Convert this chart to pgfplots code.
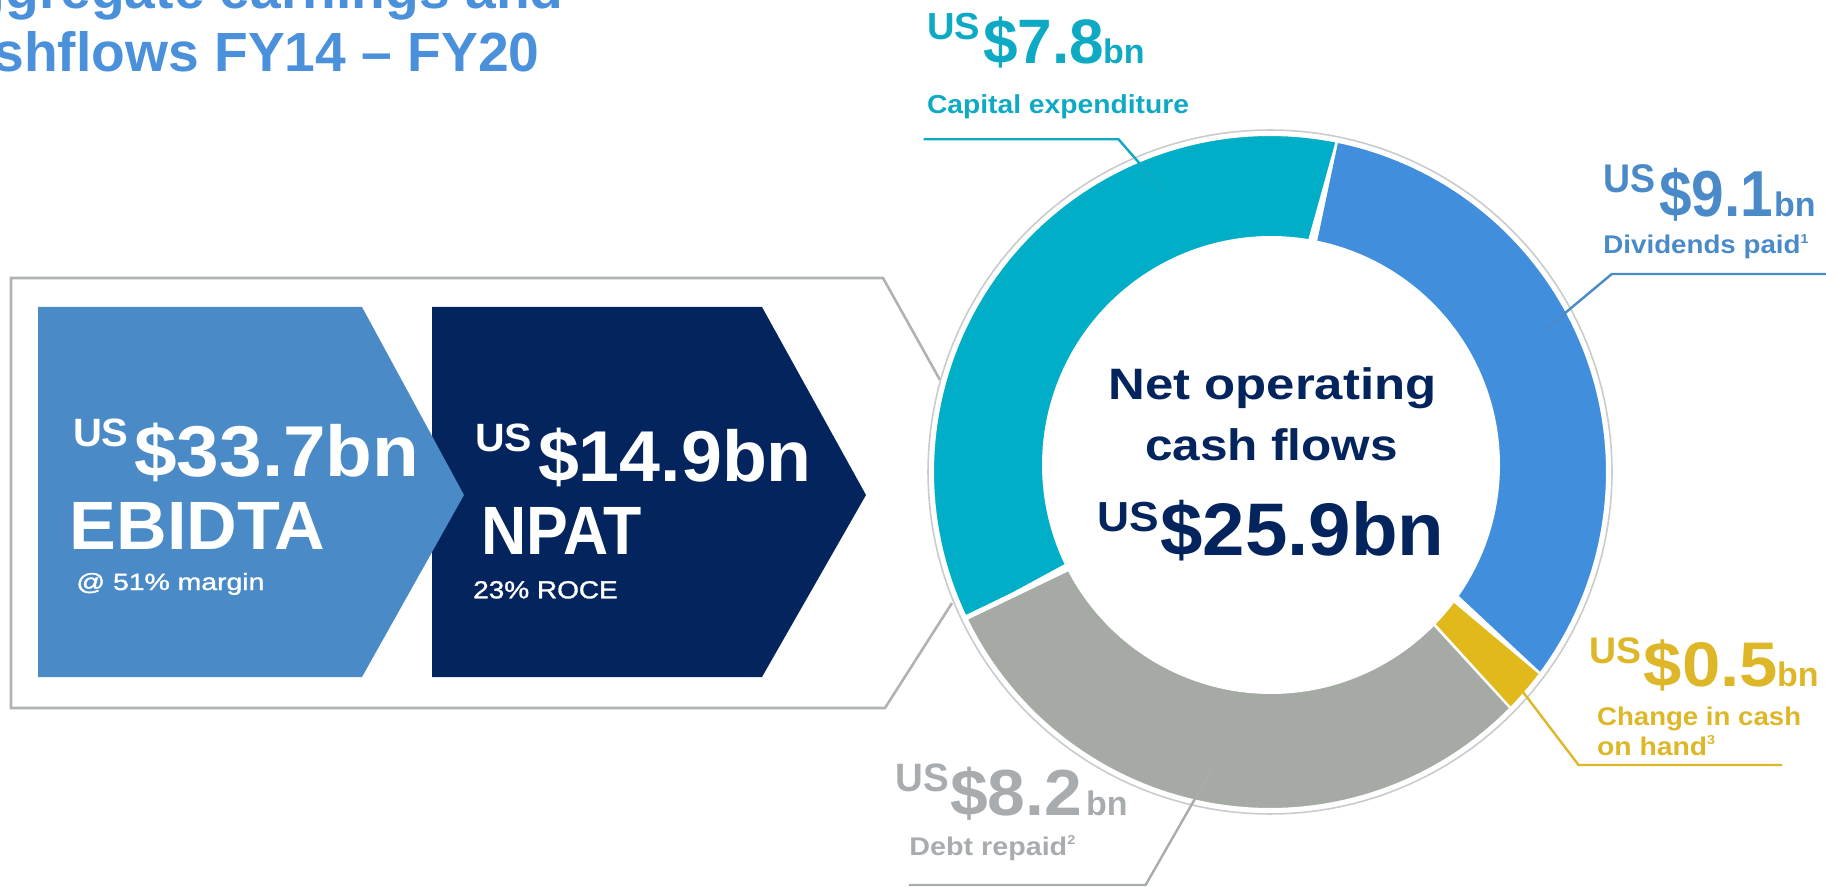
\documentclass[border=0pt]{standalone}
\usepackage{fontspec}
\setmainfont{Liberation Sans}
\newfontfamily\medfont{Liberation Sans}[FakeBold=1.2]
\usepackage{graphicx}
\usepackage{pgfplots}
\usepackage{pgfplotstable}
\pgfplotsset{compat=1.18}

\definecolor{titleblue}{HTML}{4A90DB}
\definecolor{ebit}{HTML}{4A8AC6}
\definecolor{navy}{HTML}{03245C}
\definecolor{capcol}{HTML}{00AEC7}
\definecolor{captxt}{HTML}{0EAAC4}
\definecolor{divcol}{HTML}{418EDC}
\definecolor{divtxt}{HTML}{4A8AC8}
\definecolor{cashcol}{HTML}{E2B91A}
\definecolor{cashtxt}{HTML}{DEB728}
\definecolor{debtcol}{HTML}{A5ABA4}
\definecolor{debttxt}{HTML}{A9ACAE}
\definecolor{frame}{HTML}{B0B3B5}
\definecolor{ringline}{HTML}{C9CBCC}

% arc shares of the ring (US$ bn), read from the drawn segments, clockwise from the capex segment
\pgfplotstableread{
seg   share
capex 9.05
div   8.2
cash  0.55
debt  7.8
}\arcs

\newcommand\BB[3]{\resizebox{#2pt}{\height}{\fontsize{#1pt}{#1pt}\selectfont\bfseries #3}}
\newcommand\RR[3]{\resizebox{#2pt}{\height}{\fontsize{#1pt}{#1pt}\selectfont\medfont #3}}
\newcommand\BN[1]{{\fontsize{#1pt}{#1pt}\selectfont\bfseries bn}}
\newcommand\supr[1]{\raisebox{0.4em}{\fontsize{6.5pt}{6.5pt}\selectfont #1}}

% ring segment: colour, start angle, end angle (clockwise)
\newcommand\seg[3]{%
\addplot[fill=#1, draw=white, line width=2.5pt, mark=none, domain=0:2, samples=151, variable=\t]
 ({(\t<=1) ? (1270+338.5*cos(#2+((#3)-(#2))*\t)) : (1271+226.5*cos(#3+((#2)-(#3))*(\t-1)))},
  {(\t<=1) ? (472-338.5*sin(#2+((#3)-(#2))*\t)) : (465-226.5*sin(#3+((#2)-(#3))*(\t-1)))});
}

\begin{document}
\begin{tikzpicture}
\pgfplotstablegetelem{0}{share}\of\arcs\pgfmathsetmacro\sA{\pgfplotsretval}
\pgfplotstablegetelem{1}{share}\of\arcs\pgfmathsetmacro\sB{\pgfplotsretval}
\pgfplotstablegetelem{2}{share}\of\arcs\pgfmathsetmacro\sC{\pgfplotsretval}
\pgfplotstablegetelem{3}{share}\of\arcs\pgfmathsetmacro\sD{\pgfplotsretval}
\pgfmathsetmacro\tot{\sA+\sB+\sC+\sD}
\pgfmathsetmacro\aA{205.6}
\pgfmathsetmacro\aB{\aA-360*\sA/\tot}
\pgfmathsetmacro\aC{\aB-360*\sB/\tot}
\pgfmathsetmacro\aD{\aC-360*\sC/\tot}
\pgfmathsetmacro\aE{\aD-360*\sD/\tot}
\begin{axis}[width=913pt, height=443.5pt, scale only axis,
  xmin=0, xmax=1826, ymin=0, ymax=887, y dir=reverse,
  hide axis, clip=true]

% frame
\addplot[frame, line width=1.3pt, mark=none] coordinates {(940,380) (883,278) (11,278) (11,708) (885,708) (952,603)};

% chevrons
\addplot[fill=navy, draw=none, mark=none] coordinates {(432,307) (762,307) (866,495) (762,677) (432,677)};
\addplot[fill=ebit, draw=none, mark=none] coordinates {(38,307) (362,307) (464,495) (362,677) (38,677)};

% ring
\seg{capcol}{\aA}{\aB}
\seg{divcol}{\aB}{\aC}
\seg{cashcol}{\aC}{\aD}
\seg{debtcol}{\aD}{\aE}
\addplot[ringline, line width=0.8pt, mark=none, domain=0:360, samples=181] ({1270+342*cos(x)},{472-342*sin(x)});

% leaders
\addplot[captxt, line width=1.2pt, mark=none] coordinates {(923.6,139.3) (1118.5,139.3) (1162.8,190)};
\addplot[divtxt, line width=1.2pt, mark=none] coordinates {(1826,274) (1611.8,274) (1546.8,328.3)};
\addplot[cashtxt, line width=1.2pt, mark=none] coordinates {(1523,692) (1578.5,765) (1782,765)};
\addplot[debttxt, line width=1.2pt, mark=none] coordinates {(909,885) (1145.6,885) (1212,769)};

% title
\node[anchor=base east, inner sep=0pt, text=titleblue] at (564,9) {\fontsize{27.6pt}{27.6pt}\selectfont\bfseries Aggregate earnings and};
\node[anchor=base east, inner sep=0pt, text=titleblue] at (540,72) {\fontsize{27.6pt}{27.6pt}\selectfont\bfseries cashflows FY14 – FY20};

% EBIDTA
\node[anchor=base west, inner sep=0pt, text=white] at (72.7,446.7) {\BB{19.75}{27.8}{US}};
\node[anchor=base west, inner sep=0pt, text=white] at (134,476.7) {\BB{36}{142.5}{\$33.7bn}};
\node[anchor=base west, inner sep=0pt, text=white] at (69.3,549) {\BB{34.2}{127.9}{EBIDTA}};
\node[anchor=base west, inner sep=0pt, text=white] at (76,590) {\RR{11.75}{94}{@ 51\% margin}};

% NPAT
\node[anchor=base west, inner sep=0pt, text=white] at (474.6,452) {\BB{19.75}{28.5}{US}};
\node[anchor=base west, inner sep=0pt, text=white] at (537.7,481) {\BB{36}{136.9}{\$14.9bn}};
\node[anchor=base west, inner sep=0pt, text=white] at (480.7,554) {\BB{34.2}{80.5}{NPAT}};
\node[anchor=base west, inner sep=0pt, text=white] at (472.8,598.3) {\RR{12.3}{72.3}{23\% ROCE}};

% centre
\node[anchor=base, inner sep=0pt, text=navy] at (1272.5,400) {\BB{22}{164}{Net operating}};
\node[anchor=base, inner sep=0pt, text=navy] at (1271.5,460) {\BB{22}{126.5}{cash flows}};
\node[anchor=base west, inner sep=0pt, text=navy] at (1096.7,531.7) {\BB{21}{30.8}{US}};
\node[anchor=base west, inner sep=0pt, text=navy] at (1160,555) {\BB{37.25}{142}{\$25.9bn}};

% capex
\node[anchor=base west, inner sep=0pt, text=captxt] at (926.6,40) {\BB{18.85}{26.5}{US}};
\node[anchor=base west, inner sep=0pt, text=captxt] at (982.7,63.3) {\BB{31.4}{60.5}{\$7.8}};
\node[anchor=base east, inner sep=0pt, text=captxt] at (1145,63.3) {\BN{17}};
\node[anchor=base west, inner sep=0pt, text=captxt] at (926.6,113.3) {\BB{13}{131}{Capital expenditure}};

% dividends
\node[anchor=base west, inner sep=0pt, text=divtxt] at (1602.9,192.7) {\BB{20}{26}{US}};
\node[anchor=base west, inner sep=0pt, text=divtxt] at (1659,216.7) {\BB{32.5}{57}{\$9.1}};
\node[anchor=base east, inner sep=0pt, text=divtxt] at (1816,216.7) {\BN{17}};
\node[anchor=base west, inner sep=0pt, text=divtxt] at (1603,253.3) {\BB{12.8}{102.5}{Dividends paid\supr{1}}};

% cash
\node[anchor=base west, inner sep=0pt, text=cashtxt] at (1589.3,663.3) {\BB{18.5}{26}{US}};
\node[anchor=base west, inner sep=0pt, text=cashtxt] at (1643.4,686.7) {\BB{31.5}{67}{\$0.5}};
\node[anchor=base east, inner sep=0pt, text=cashtxt] at (1819,686.7) {\BN{17}};
\node[anchor=base west, inner sep=0pt, text=cashtxt] at (1596.7,725) {\BB{12.8}{102}{Change in cash}};
\node[anchor=base west, inner sep=0pt, text=cashtxt] at (1596.7,755) {\BB{12.8}{59}{on hand\supr{3}}};

% debt
\node[anchor=base west, inner sep=0pt, text=debttxt] at (894.8,791.7) {\BB{19.8}{26.75}{US}};
\node[anchor=base west, inner sep=0pt, text=debttxt] at (949.6,815) {\BB{32.6}{66}{\$8.2}};
\node[anchor=base east, inner sep=0pt, text=debttxt] at (1128,815) {\BN{17}};
\node[anchor=base west, inner sep=0pt, text=debttxt] at (909,855) {\BB{12.8}{83}{Debt repaid\supr{2}}};

\end{axis}
\pgfresetboundingbox
\useasboundingbox (current axis.south west) rectangle (current axis.north east);
\end{tikzpicture}
\end{document}
